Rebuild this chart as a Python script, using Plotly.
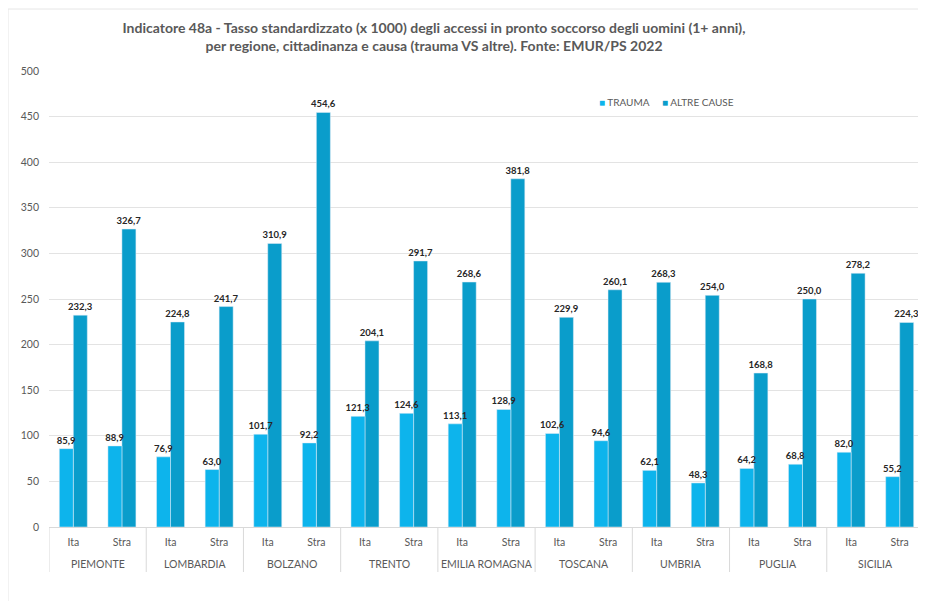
import plotly.graph_objects as go

regions = ["PIEMONTE", "LOMBARDIA", "BOLZANO", "TRENTO", "EMILIA ROMAGNA",
           "TOSCANA", "UMBRIA", "PUGLIA", "SICILIA"]
subcats = ["Ita", "Stra"]
trauma = [85.9, 88.9, 76.9, 63.0, 101.7, 92.2, 121.3, 124.6, 113.1, 128.9,
          102.6, 94.6, 62.1, 48.3, 64.2, 68.8, 82.0, 55.2]
altre = [232.3, 326.7, 224.8, 241.7, 310.9, 454.6, 204.1, 291.7, 268.6, 381.8,
         229.9, 260.1, 268.3, 254.0, 168.8, 250.0, 278.2, 224.3]

n_sub = len(subcats)
xpos = list(range(len(regions) * n_sub))
xlabels = [s for _ in regions for s in subcats]

c_trauma = "#0DB4EC"
c_altre = "#0A9DCB"
txt = "#595959"
lab = "#262626"

# figure is drawn inside a page with an 8px body margin
W, H = 918, 593
ML, MR, MT, MB = 41, 2, 63, 74
PW, PH = W - ML - MR, H - MT - MB
BW = 0.288  # bar width in category units

fig = go.Figure()
# altre first so the trauma labels are drawn above the neighbouring bars
for name, vals, col, off in [("ALTRE CAUSE", altre, c_altre, 0.0),
                             ("TRAUMA", trauma, c_trauma, -BW)]:
    fig.add_trace(go.Bar(name=name, x=xpos, y=vals, marker_color=col,
                         width=BW, offset=off,
                         texttemplate="%{y:.1f}", textposition="outside",
                         cliponaxis=False, constraintext="none",
                         textfont=dict(size=9.5, color=lab, family="Lato", weight="bold"),
                         showlegend=False))

annotations = []
for i, r in enumerate(regions):
    annotations.append(dict(text=r, x=i * n_sub + (n_sub - 1) / 2, xref="x",
                            y=-37 / PH, yref="paper", yanchor="middle", showarrow=False,
                            font=dict(size=10.5, color=txt, family="Lato")))
annotations.append(dict(
    text=f"<span style='color:{c_trauma}'>■</span> TRAUMA     "
         f"<span style='color:{c_altre}'>■</span> ALTRE CAUSE",
    x=(589 - ML) / PW, xref="paper", xanchor="left",
    y=(MT + PH - 94) / PH, yref="paper", yanchor="middle", showarrow=False,
    font=dict(size=10, color=txt, family="Lato")))

shapes = []
for i in range(len(regions) + 1):
    xd = i * n_sub - 0.5
    shapes.append(dict(type="line", xref="x", yref="paper", x0=xd, x1=xd,
                       y0=0, y1=-45 / PH, line=dict(color="#D9D9D9", width=1)))
shapes += [
    dict(type="line", xref="paper", yref="paper", x0=-ML / PW, x1=-ML / PW,
         y0=-MB / PH, y1=(PH + MT - 1) / PH, line=dict(color="#E6E6E6", width=1)),
    dict(type="line", xref="paper", yref="paper", x0=-ML / PW, x1=1 + MR / PW,
         y0=(PH + MT - 1) / PH, y1=(PH + MT - 1) / PH, line=dict(color="#E6E6E6", width=1)),
]

fig.update_layout(
    width=W, height=H,
    margin=dict(l=ML, r=MR, t=MT, b=MB, autoexpand=False),
    paper_bgcolor="white", plot_bgcolor="white",
    separators=",.",
    barmode="overlay",
    font=dict(family="Lato", color=txt, size=11),
    showlegend=False,
    title=dict(
        text="Indicatore 48a - Tasso standardizzato (x 1000) degli accessi in pronto soccorso degli uomini (1+ anni),<br>per regione, cittadinanza e causa (trauma VS altre). Fonte: EMUR/PS 2022",
        x=426 / W, xanchor="center", xref="container",
        y=1 - 25 / H, yanchor="top", yref="container",
        font=dict(family="Lato", size=14, color=txt, weight="bold"),
    ),
    xaxis=dict(range=[-0.5, len(xpos) - 0.5], tickvals=xpos, ticktext=xlabels,
               showline=True, linecolor="#D9D9D9", linewidth=1,
               tickfont=dict(size=10.5, color=txt), ticks="", showgrid=False,
               zeroline=False, ticklabelstandoff=5),
    yaxis=dict(range=[0, 500], dtick=50, showgrid=True, gridcolor="#E3E3E3",
               gridwidth=1, zeroline=False, showline=False, ticks="",
               tickfont=dict(size=10.5, color=txt), ticklabelstandoff=9),
    annotations=annotations,
    shapes=shapes,
)

fig.write_html("out.html")
